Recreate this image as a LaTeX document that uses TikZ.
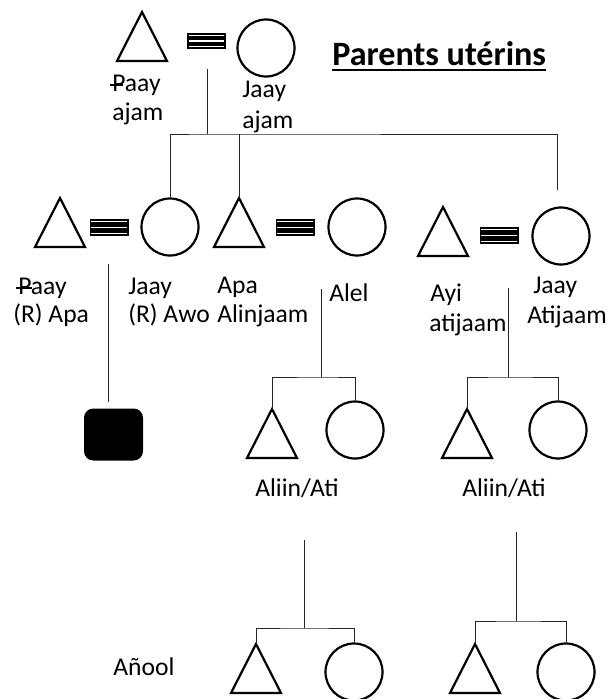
\documentclass[tikz,border=0pt]{standalone}
\usepackage{fontspec}
\setmainfont{Carlito}
\begin{document}
\begin{tikzpicture}[x=0.75pt,y=-0.75pt,
  shp/.style={draw=black,line width=1.65pt,line join=miter},
  circ/.style={circle,draw=black,line width=1.65pt,minimum size=42.75pt,inner sep=0pt},
  conn/.style={draw=black!85,line width=0.75pt},
  lbl/.style={anchor=base west,inner sep=0pt,font=\fontsize{19.2}{22}\selectfont},
  eqs/.pic={
    \fill[black] (-19.5,-8.3) rectangle (19.5,8.3);
    \draw[white,line width=0.7pt] (-17.8,-5.8) -- (17.8,-5.8) (-17.8,5.8) -- (17.8,5.8);
    \draw[white,line width=1pt] (-17.8,0) -- (17.8,0);
  }]
\useasboundingbox (0,0) rectangle (609,699);

% ---------- generation 1 ----------
\coordinate (t0) at (142,12);
\draw[shp] (t0) -- ++(-25,49) -- ++(50,0) -- cycle;
\pic at (206.5,41) {eqs};
\node[circ] (c0) at (266,48) {};
\node[lbl] (l0a) at (112,92) {Paay};
\node[lbl] (l0b) at (112,120) {ajam};
\draw[line width=1pt] (110,85) -- (123,85);
\node[lbl] (l0c) at (242,98) {Jaay};
\node[lbl] (l0d) at (242,128) {ajam};
\node[anchor=base west,inner sep=0pt,font=\fontsize{25.6}{28}\selectfont\bfseries] (title) at (332,65) {Parents utérins};
\draw[line width=2.2pt] (title.base west) ++(0,5) coordinate (u1) -- (u1 -| title.base east);

% ---------- generation 2 ----------
\coordinate (t1) at (60,198);
\draw[shp] (t1) -- ++(-25,49) -- ++(50,0) -- cycle;
\pic at (109,227.5) {eqs};
\node[circ] (c1) at (170,227) {};
\coordinate (t2) at (239,198);
\draw[shp] (t2) -- ++(-25,49) -- ++(50,0) -- cycle;
\pic at (295,227.5) {eqs};
\node[circ] (c2) at (357,227) {};
\coordinate (t3) at (443,207);
\draw[shp] (t3) -- ++(-25,49) -- ++(50,0) -- cycle;
\pic at (499,235.5) {eqs};
\node[circ] (c3) at (561,236) {};

% connectors gen1 -> gen2
\coordinate (e0) at (207,69);
\coordinate (j0) at (207,134);
\coordinate (k3) at (557,190);
\draw[conn] (e0) -- (j0);
\draw[conn] (c1.north) |- (j0) -| (k3);
\draw[conn] (t2) -- (t2 |- j0);

% labels gen2
\node[lbl] (l1a) at (18,294) {Paay};
\draw[line width=1pt] (16,288) -- (32,288);
\node[lbl] (l1b) at (13,322) {(R) Apa};
\node[lbl] (l1c) at (128,294) {Jaay};
\node[lbl] (l1d) at (128,322) {(R) Awo};
\node[lbl] (l2a) at (217,293) {Apa};
\node[lbl] (l2b) at (217,322) {Alinjaam};
\node[lbl] (l2c) at (329,301) {Alel};
\node[lbl] (l3a) at (430,301) {Ayi};
\node[lbl] (l3b) at (429,331) {atijaam};
\node[lbl] (l3c) at (533,293) {Jaay};
\node[lbl] (l3d) at (527,323) {Atijaam};

% ---------- generation 3 ----------
\coordinate (s1) at (108,264);
\coordinate (s2) at (108,402);
\draw[conn] (s1) -- (s2);
\node[fill=black,rounded corners=7pt,minimum width=44.25pt,minimum height=39pt,inner sep=0pt] (sq) at (113.5,434.5) {};

\coordinate (a1) at (321,289);
\coordinate (a2) at (321,377);
\coordinate (t4) at (272,409);
\draw[shp] (t4) -- ++(-25,49) -- ++(50,0) -- cycle;
\node[circ] (c4) at (355,430) {};
\draw[conn] (a1) -- (a2);
\draw[conn] (t4) |- (a2) -| (c4.north);
\node[lbl] (l4) at (255,496) {Aliin/Ati};

\coordinate (b1) at (508,288);
\coordinate (b2) at (508,377);
\coordinate (t5) at (467,409);
\draw[shp] (t5) -- ++(-25,49) -- ++(50,0) -- cycle;
\node[circ] (c5) at (558,430) {};
\draw[conn] (b1) -- (b2);
\draw[conn] (t5) |- (b2) -| (c5.north);
\node[lbl] (l5) at (462,496) {Aliin/Ati};

% ---------- generation 4 ----------
\coordinate (d1) at (304,540);
\coordinate (d2) at (304,628);
\coordinate (t6) at (256,644);
\draw[shp] (t6) -- ++(-25,49) -- ++(50,0) -- cycle;
\node[circ] (c6) at (354,672) {};
\draw[conn] (d1) -- (d2);
\draw[conn] (t6) |- (d2) -| (c6.north);

\coordinate (f1) at (516,532);
\coordinate (f2) at (516,621);
\coordinate (t7) at (475,644);
\draw[shp] (t7) -- ++(-25,49) -- ++(50,0) -- cycle;
\node[circ] (c7) at (566,672) {};
\draw[conn] (f1) -- (f2);
\draw[conn] (t7) |- (f2) -| (c7.north);

\node[lbl] (l6) at (113,675) {Añool};
\end{tikzpicture}
\end{document}
